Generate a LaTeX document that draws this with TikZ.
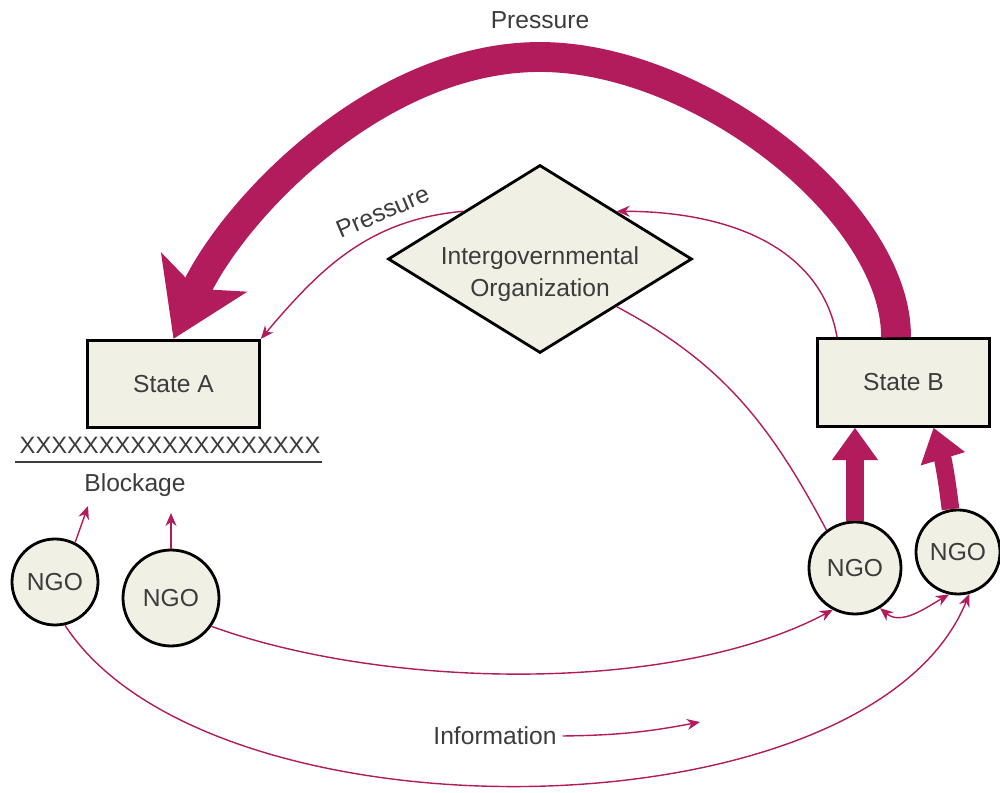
\documentclass[tikz,border=0pt]{standalone}
\usepackage{fontspec}
\setmainfont{Liberation Sans}
\usepackage{tikz}
\usetikzlibrary{shapes.geometric,arrows.meta}

\definecolor{flowmag}{HTML}{B21B5C}
\definecolor{boxfill}{HTML}{F1F0E4}
\definecolor{inktext}{HTML}{3C3C3C}

\begin{document}
\begin{tikzpicture}[
	font=\fontsize{14}{17}\selectfont, text=inktext,
	statebox/.style={shape=rectangle,draw=black,line width=1.6pt,fill=boxfill,minimum width=3.44cm,minimum height=1.75cm},
	ngo/.style={shape=circle,draw=black,line width=1.6pt,fill=boxfill,inner sep=0pt},
	thinflow/.style={draw=flowmag,line width=0.8pt,-{Stealth[length=2.6mm,width=2.2mm]}},
	thickflow/.style={draw=flowmag,line width=10pt,-{Triangle[length=0.65cm,width=0.88cm]}},
	bigflow/.style={draw=flowmag,line width=17pt,-{Stealth[length=1.45cm,width=1.85cm,inset=0.35cm]}}
	]
	
	\useasboundingbox (0, 0) rectangle (20, 15.84);
	
	\node[statebox] (stateA) at (3.47, 8.16)  {State A};
	\node[statebox] (stateB) at (18.07, 8.19) {State B};
	\node[shape=diamond,draw=black,line width=1.6pt,fill=boxfill,aspect=1.62,minimum width=6.08cm,minimum height=3.76cm,
		label={[align=center,font=\fontsize{14}{18.2}\selectfont,yshift=-0.3cm]center:Intergovernmental\\Organization}] (igo) at (10.8, 10.66) {};
	\node[ngo,minimum size=1.72cm] (ngoA) at (1.1, 4.2)   {NGO};
	\node[ngo,minimum size=1.92cm] (ngoB) at (3.42, 3.88) {NGO};
	\node[ngo,minimum size=1.84cm] (ngoC) at (17.1, 4.48) {NGO};
	\node[ngo,minimum size=1.68cm] (ngoD) at (19.16, 4.8) {NGO};
	\node[font=\fontsize{13.5}{16}\selectfont] (xs) at (3.4, 6.94) {XXXXXXXXXXXXXXXXXXX};
	\node (block) at (2.7, 6.14) {Blockage};
	\node (press) at (10.8, 15.44) {Pressure};
	\node (info) at (9.9, 1.12) {Information};
	
	\coordinate (blkA) at (1.76, 5.72);
	\coordinate (blkB) at (3.42, 5.58);
	\coordinate (infoend) at (14.0, 1.4);
	
	\draw[inktext,line width=1.2pt] (0.3, 6.6) -- (6.44, 6.6);
	
	\draw[bigflow] ([xshift=-0.15cm]stateB.north) .. controls (17.94, 11.61) and (14.01, 14.7) .. (10.8, 14.7)
		.. controls (7.52, 14.7) and (4.64, 11.62) .. (stateA.north);
	
	\draw[thickflow] (ngoC.north) -- (ngoC.north |- stateB.south);
	\draw[thickflow] (ngoD.100) to[bend right=5] ([xshift=0.6cm]stateB.south);
	
	\draw[thinflow] (igo.north west) to[out=185,in=50] node[pos=0.3,sloped,above=2pt] {Pressure} (stateA.north east);
	\draw[thinflow] ([xshift=0.42cm]stateB.north west) to[out=100,in=0] (igo.north east);
	\draw[thinflow,-] (igo.south east) to[out=-28,in=118] (ngoC.127);
	\draw[thinflow] (ngoB.-35) to[out=-20,in=-152,looseness=0.75] (ngoC.-118);
	\draw[thinflow] (ngoA.-77) to[out=-57,in=-112,looseness=0.75] (ngoD.-75);
	\draw[thinflow,{Stealth[length=2.6mm,width=2.2mm]}-{Stealth[length=2.6mm,width=2.2mm]}] (ngoC.-58) to[out=-40,in=-150] (ngoD.-102);
	\draw[thinflow] (ngoA.63) -- (blkA);
	\draw[thinflow] (ngoB.north) -- (blkB);
	\draw[thinflow] (info.east) to[bend right=5] (infoend);
	
\end{tikzpicture}
\end{document}
